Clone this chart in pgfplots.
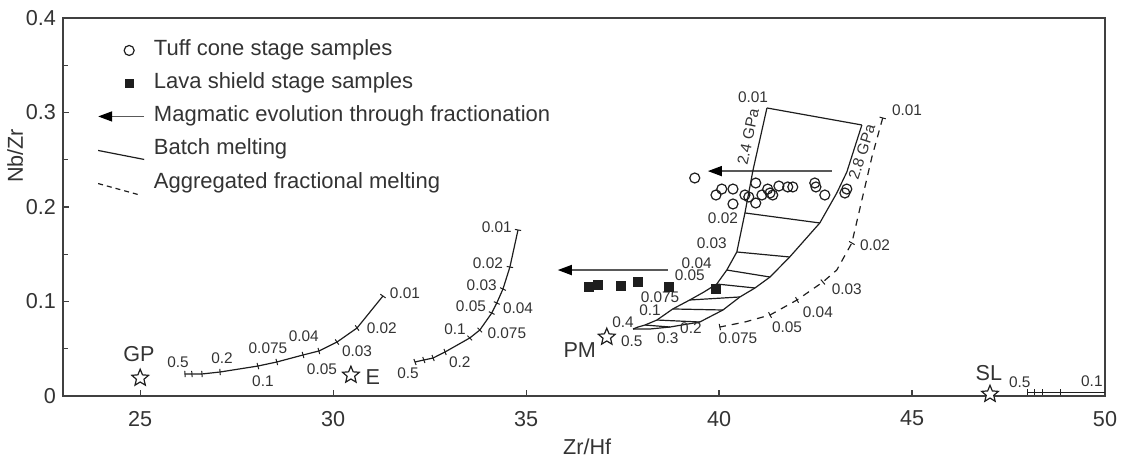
\documentclass[border=0pt]{standalone}
\usepackage{pgfplots}
\pgfplotsset{compat=1.18}
\usepackage{fontspec}
\setmainfont{Liberation Sans}
\usetikzlibrary{arrows.meta,plotmarks}
\definecolor{txt}{HTML}{333333}
\definecolor{ln}{HTML}{1E1E1E}
\newcommand{\fs}[1]{\fontsize{#1}{#1}\selectfont}
\pgfdeclareplotmark{ostar}{%
  \pgfpathmoveto{\pgfqpointpolar{90}{\pgfplotmarksize}}%
  \pgfpathlineto{\pgfqpointpolar{126}{0.45\pgfplotmarksize}}%
  \pgfpathlineto{\pgfqpointpolar{162}{\pgfplotmarksize}}%
  \pgfpathlineto{\pgfqpointpolar{198}{0.45\pgfplotmarksize}}%
  \pgfpathlineto{\pgfqpointpolar{234}{\pgfplotmarksize}}%
  \pgfpathlineto{\pgfqpointpolar{270}{0.45\pgfplotmarksize}}%
  \pgfpathlineto{\pgfqpointpolar{306}{\pgfplotmarksize}}%
  \pgfpathlineto{\pgfqpointpolar{342}{0.45\pgfplotmarksize}}%
  \pgfpathlineto{\pgfqpointpolar{18}{\pgfplotmarksize}}%
  \pgfpathlineto{\pgfqpointpolar{54}{0.45\pgfplotmarksize}}%
  \pgfpathclose
  \pgfusepathqfillstroke}
\begin{document}
\begin{tikzpicture}
\path (-31.5pt,-29pt) rectangle (531pt,198pt);
\begin{axis}[
  at={(0pt,0pt)}, anchor=south west,
  scale only axis, width=521pt, height=189pt,
  xmin=23, xmax=50, ymin=0, ymax=0.4,
  xtick={25,30,35,40,45,50}, ytick={0,0.1,0.2,0.3,0.4},
  minor ytick={0.05,0.15,0.25,0.35},
  tick pos=left, tick align=inside,
  major tick length=3pt, minor tick length=2.5pt,
  axis line style={line width=0.8pt, black!75},
  tick style={line width=0.6pt, black!75},
  /pgf/number format/assume math mode=true,
  ticklabel style={font=\fs{10.8}, text=txt},
  xticklabel style={yshift=-4pt},
  label style={font=\fs{10.8}, text=txt},
  xlabel={Zr/Hf}, ylabel={Nb/Zr},
  xlabel style={at={(axis description cs:0.503,-0.135)}, anchor=center},
  ylabel style={at={(axis description cs:-0.046,0.635)}, anchor=center},
  clip=false,
  legend style={at={(axis description cs:0.0326,0.943)}, anchor=north west,
    draw=none, fill=none, inner sep=0pt, row sep=6pt, column sep=4.5pt,
    font=\fs{11}, text=txt,
    nodes={inner sep=0pt, text height=8pt, text depth=2.5pt, anchor=west}},
  legend cell align=left,
]
% ---------- legend ----------
\addlegendimage{legend image code/.code={\path[draw=none,fill=none] (0pt,-4pt) rectangle (23pt,4pt); \draw[ln, fill=none, line width=0.6pt] (15.5pt,0pt) circle (2.5pt);}}
\addlegendentry{Tuff cone stage samples}
\addlegendimage{legend image code/.code={\path[draw=none,fill=none] (0pt,-4pt) rectangle (23pt,4pt); \fill[ln, draw=none] (13.3pt,-2.2pt) rectangle (17.7pt,2.2pt);}}
\addlegendentry{Lava shield stage samples}
\addlegendimage{legend image code/.code={\path[draw=none,fill=none] (0pt,-4pt) rectangle (23pt,4pt); \draw[black!65, fill=none, line width=0.8pt, -{Triangle[length=7pt,width=5pt,color=black]}] (23pt,0pt) -- (0pt,0pt);}}
\addlegendentry{Magmatic evolution through fractionation}
\addlegendimage{legend image code/.code={\path[draw=none,fill=none] (0pt,-4pt) rectangle (23pt,4pt); \draw[ln, fill=none, line width=0.6pt] (0pt,-0.5pt) -- (23pt,-5pt);}}
\addlegendentry{Batch melting}
\addlegendimage{legend image code/.code={\path[draw=none,fill=none] (0pt,-4pt) rectangle (23pt,4pt); \draw[ln, fill=none, line width=0.6pt, dash pattern=on 2.5pt off 2pt] (0pt,-0.5pt) -- (20pt,-6pt);}}
\addlegendentry{Aggregated fractional melting}

% ---------- samples ----------
\addplot[forget plot, only marks, mark=o, mark size=2.5pt, ln, mark options={line width=0.6pt}] coordinates {
(39.37,0.2307) (39.92,0.2127) (40.07,0.2190) (40.36,0.2190) (40.36,0.2032)
(40.67,0.2127) (40.77,0.2106) (40.95,0.2254) (40.95,0.2042) (41.11,0.2127)
(41.26,0.2190) (41.32,0.2148) (41.39,0.2127) (41.55,0.2222) (41.78,0.2212)
(41.91,0.2212) (42.48,0.2254) (42.51,0.2212) (42.74,0.2127) (43.26,0.2148)
(43.31,0.2190)};
\addplot[forget plot, only marks, mark=square*, mark size=2.25pt, ln] coordinates {
(36.63,0.1153) (36.86,0.1175) (37.46,0.1164) (37.90,0.1206) (38.70,0.1153) (39.92,0.1132)};

% ---------- fractionation arrows ----------
\addplot[forget plot, black!65, line width=0.8pt, -{Triangle[length=7pt,width=5pt,color=black]}] coordinates {(42.92,0.238) (39.71,0.238)};
\addplot[forget plot, black!65, line width=0.8pt, -{Triangle[length=7pt,width=5pt,color=black]}] coordinates {(38.67,0.1333) (35.82,0.1333)};

% ---------- batch melting curve 1 (GP) ----------
\addplot[forget plot, ln, line width=0.6pt] coordinates {
(26.16,0.0233) (26.34,0.0233) (26.60,0.0233) (27.07,0.0254) (28.05,0.0317) (28.54,0.0360)
(29.22,0.0434) (29.63,0.0476) (30.10,0.0571) (30.62,0.0720) (31.29,0.1058)};
\addplot[forget plot, only marks, ln, mark=|, mark size=1.6pt, mark options={rotate=4, line width=0.5pt}] coordinates {
(26.16,0.0233) (26.34,0.0233) (26.60,0.0233) (27.07,0.0254)};
\addplot[forget plot, only marks, ln, mark=|, mark size=1.6pt, mark options={rotate=15, line width=0.5pt}] coordinates {
(28.05,0.0317) (28.54,0.0360) (29.22,0.0434) (29.63,0.0476)};
\addplot[forget plot, only marks, ln, mark=|, mark size=1.6pt, mark options={rotate=35, line width=0.5pt}] coordinates {
(30.10,0.0571) (30.62,0.0720)};
\addplot[forget plot, only marks, ln, mark=|, mark size=1.6pt, mark options={rotate=55, line width=0.5pt}] coordinates {
(31.29,0.1058)};

% ---------- batch melting curve 2 (E) ----------
\addplot[forget plot, ln, line width=0.6pt] coordinates {
(32.12,0.0360) (32.35,0.0381) (32.59,0.0402) (32.90,0.0466) (33.54,0.0614) (33.80,0.0698)
(34.11,0.0878) (34.24,0.0984) (34.40,0.1132) (34.58,0.1365) (34.79,0.1757)};
\addplot[forget plot, only marks, ln, mark=|, mark size=1.6pt, mark options={rotate=20, line width=0.5pt}] coordinates {
(32.12,0.0360) (32.35,0.0381) (32.59,0.0402) (32.90,0.0466)};
\addplot[forget plot, only marks, ln, mark=|, mark size=1.6pt, mark options={rotate=45, line width=0.5pt}] coordinates {
(33.54,0.0614) (33.80,0.0698)};
\addplot[forget plot, only marks, ln, mark=|, mark size=1.6pt, mark options={rotate=65, line width=0.5pt}] coordinates {
(34.11,0.0878) (34.24,0.0984) (34.40,0.1132)};
\addplot[forget plot, only marks, ln, mark=|, mark size=1.6pt, mark options={rotate=80, line width=0.5pt}] coordinates {
(34.58,0.1365) (34.79,0.1757)};

% ---------- SL curve ----------
\addplot[forget plot, ln, line width=0.6pt] coordinates {(48.00,0.004) (48.18,0.004) (48.39,0.004) (48.85,0.004) (50.00,0.004)};
\addplot[forget plot, only marks, ln, mark=|, mark size=1.6pt, mark options={line width=0.5pt}] coordinates {(48.00,0.004) (48.18,0.004) (48.39,0.004) (48.85,0.004)};

% ---------- PM batch melting grid ----------
\addplot[forget plot, ln, line width=0.6pt] coordinates {
(41.24,0.3048) (40.88,0.2392) (40.67,0.1937) (40.46,0.1524) (40.20,0.1333) (39.94,0.1185)
(39.61,0.1101) (39.24,0.1016) (38.80,0.0921) (38.39,0.0804) (38.08,0.0751) (37.90,0.0730) (37.77,0.0709)};
\addplot[forget plot, ln, line width=0.6pt] coordinates {
(43.70,0.2868) (43.31,0.2370) (43.05,0.2148) (42.61,0.1831) (41.83,0.1471) (41.32,0.1259)
(40.93,0.1143) (40.54,0.1048) (40.10,0.0910) (39.50,0.0783) (38.73,0.0730) (38.21,0.0709) (37.77,0.0709)};
\addplot[forget plot, ln, line width=0.6pt, unbounded coords=jump] coordinates {
(41.24,0.3048) (43.70,0.2868) (nan,nan)
(40.67,0.1937) (42.61,0.1831) (nan,nan)
(40.46,0.1524) (41.83,0.1471) (nan,nan)
(40.20,0.1333) (41.32,0.1259) (nan,nan)
(39.94,0.1185) (40.93,0.1143) (nan,nan)
(39.24,0.1016) (40.54,0.1048) (nan,nan)
(38.80,0.0921) (40.10,0.0910) (nan,nan)
(38.39,0.0804) (39.50,0.0783) (nan,nan)
(38.08,0.0751) (38.73,0.0730)};

% ---------- aggregated fractional melting (dashed) ----------
\addplot[forget plot, ln, line width=0.6pt, dash pattern=on 3.5pt off 3pt] coordinates {
(44.24,0.2942) (43.96,0.2529) (43.70,0.2074) (43.44,0.1619) (43.05,0.1333) (42.69,0.1206)
(42.02,0.1016) (41.32,0.0857) (40.67,0.0783) (40.02,0.0730)};
\addplot[forget plot, only marks, ln, mark=|, mark size=1.6pt, mark options={rotate=75, line width=0.5pt}] coordinates {(44.24,0.2942)};
\addplot[forget plot, only marks, ln, mark=|, mark size=1.6pt, mark options={rotate=60, line width=0.5pt}] coordinates {(43.44,0.1619)};
\addplot[forget plot, only marks, ln, mark=|, mark size=1.6pt, mark options={rotate=40, line width=0.5pt}] coordinates {(42.69,0.1206)};
\addplot[forget plot, only marks, ln, mark=|, mark size=1.6pt, mark options={rotate=28, line width=0.5pt}] coordinates {(42.02,0.1016) (41.32,0.0857)};
\addplot[forget plot, only marks, ln, mark=|, mark size=1.6pt, mark options={rotate=12, line width=0.5pt}] coordinates {(40.02,0.0730)};

% ---------- source stars ----------
\addplot[forget plot, only marks, mark=ostar, mark size=4.4pt, ln, mark options={fill=white, line width=0.6pt}] coordinates {
(25.00,0.0190) (30.46,0.0222) (37.09,0.0624) (47.02,0.0020)};

% ---------- labels ----------
\begin{scope}[every node/.style={font=\fs{7.7}, text=txt, inner sep=0pt}]
\node at (axis cs:25.98,0.0360) {0.5};
\node at (axis cs:27.12,0.0402) {0.2};
\node at (axis cs:28.31,0.0508) {0.075};
\node at (axis cs:29.24,0.0635) {0.04};
\node at (axis cs:28.18,0.0159) {0.1};
\node at (axis cs:29.71,0.0286) {0.05};
\node at (axis cs:30.62,0.0476) {0.03};
\node at (axis cs:31.26,0.0720) {0.02};
\node at (axis cs:31.86,0.1090) {0.01};
\node at (axis cs:34.24,0.1788) {0.01};
\node at (axis cs:34.01,0.1407) {0.02};
\node at (axis cs:33.85,0.1175) {0.03};
\node at (axis cs:33.57,0.0952) {0.05};
\node at (axis cs:34.79,0.0931) {0.04};
\node at (axis cs:33.16,0.0709) {0.1};
\node at (axis cs:34.50,0.0667) {0.075};
\node at (axis cs:33.28,0.0360) {0.2};
\node at (axis cs:31.94,0.0243) {0.5};
\node at (axis cs:40.88,0.3164) {0.01};
\node at (axis cs:40.10,0.1884) {0.02};
\node at (axis cs:39.81,0.1619) {0.03};
\node at (axis cs:39.42,0.1407) {0.04};
\node at (axis cs:39.24,0.1280) {0.05};
\node at (axis cs:38.47,0.1048) {0.075};
\node at (axis cs:38.21,0.0910) {0.1};
\node at (axis cs:37.51,0.0783) {0.4};
\node at (axis cs:37.74,0.0582) {0.5};
\node at (axis cs:38.67,0.0614) {0.3};
\node at (axis cs:39.27,0.0720) {0.2};
\node at (axis cs:44.87,0.3026) {0.01};
\node at (axis cs:44.04,0.1598) {0.02};
\node at (axis cs:43.31,0.1132) {0.03};
\node at (axis cs:42.56,0.0889) {0.04};
\node at (axis cs:41.76,0.0730) {0.05};
\node at (axis cs:40.49,0.0614) {0.075};
\node at (axis cs:47.79,0.0148) {0.5};
\node at (axis cs:49.66,0.0159) {0.1};
\node[rotate=78] at (axis cs:40.75,0.2741) {2.4 GPa};
\node[rotate=72] at (axis cs:43.70,0.2582) {2.8 GPa};
\end{scope}
\begin{scope}[every node/.style={font=\fs{10.8}, text=txt, inner sep=0pt}]
\node at (axis cs:24.97,0.0444) {GP};
\node at (axis cs:31.03,0.0201) {E};
\node at (axis cs:36.39,0.0487) {PM};
\node at (axis cs:46.99,0.0243) {SL};
\end{scope}
\end{axis}
\end{tikzpicture}
\end{document}
